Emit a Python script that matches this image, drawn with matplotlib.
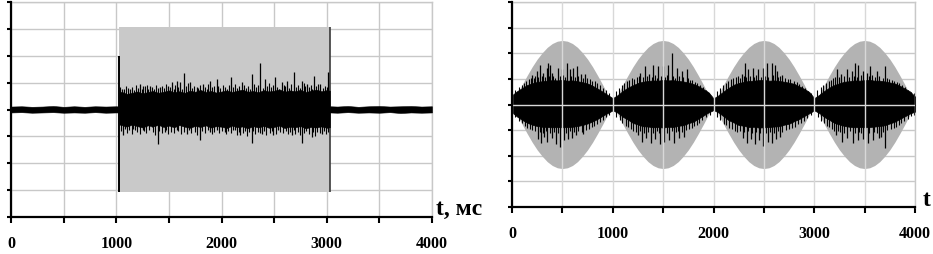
import numpy as np
import matplotlib
matplotlib.use("Agg")
from matplotlib import pyplot as plt

# ---- left panel: noise burst inside a rectangular window ----
win_start, win_end, win_half = 1030, 3030, 3.07
onset_spike = (-3.07, 2.0)

quiet1_t = [0, 100, 200, 300, 400, 500, 600, 700, 800, 900, 1000, 1030]
quiet1_hi = [0.11, 0.12, 0.10, 0.11, 0.13, 0.10, 0.12, 0.10, 0.12, 0.11, 0.12, 0.11]
quiet1_lo = [-0.11, -0.10, -0.12, -0.11, -0.10, -0.12, -0.11, -0.12, -0.10, -0.12, -0.11, -0.11]

active_t = [1030] + list(range(1050, 3001, 50)) + [3030]
active_hi = [0.62, 0.66, 0.58, 0.62, 0.67, 0.60, 0.65, 0.69, 0.62, 0.66, 0.71, 0.64, 0.68, 0.62, 0.70,
             0.66, 0.73, 0.65, 0.69, 0.63, 0.67, 0.71, 0.65, 0.70, 0.74, 0.66, 0.69, 0.64, 0.72, 0.67,
             0.70, 0.75, 0.66, 0.71, 0.68, 0.73, 0.65, 0.70, 0.74, 0.68, 0.72, 0.70]
active_lo = [-0.56, -0.58, -0.64, -0.56, -0.62, -0.67, -0.59, -0.63, -0.57, -0.65, -0.60, -0.66, -0.58,
             -0.64, -0.68, -0.61, -0.65, -0.59, -0.67, -0.62, -0.64, -0.69, -0.60, -0.66, -0.63, -0.70,
             -0.62, -0.67, -0.61, -0.68, -0.65, -0.60, -0.69, -0.64, -0.66, -0.62, -0.70, -0.65, -0.67,
             -0.63, -0.68, -0.66]

quiet2_t = [3030, 3100, 3200, 3300, 3400, 3500, 3600, 3700, 3800, 3900, 4000]
quiet2_hi = [0.12, 0.11, 0.13, 0.10, 0.12, 0.13, 0.11, 0.12, 0.13, 0.11, 0.12]
quiet2_lo = [-0.11, -0.12, -0.10, -0.12, -0.11, -0.12, -0.10, -0.13, -0.11, -0.12, -0.11]

# tall needles (time, value)
left_up_spikes = [(1051, 0.77), (1131, 0.77), (1226, 0.95), (1257, 0.89), (1321, 0.89), (1416, 0.83),
                  (1495, 0.89), (1527, 1.01), (1574, 1.07), (1606, 1.01), (1644, 1.37), (1701, 1.01),
                  (1764, 0.83), (1827, 0.95), (1891, 1.07), (1954, 1.14), (1970, 0.89), (2087, 1.20),
                  (2192, 1.01), (2287, 1.32), (2366, 1.73), (2413, 1.14), (2508, 1.20), (2572, 1.01),
                  (2619, 1.07), (2689, 1.38), (2762, 1.07), (2809, 0.95), (2879, 1.23), (2936, 0.95),
                  (3015, 1.38)]
left_dn_spikes = [(1067, -0.96), (1162, -0.72), (1257, -0.78), (1337, -0.66), (1394, -1.27),
                  (1463, -0.84), (1574, -0.78), (1669, -0.90), (1796, -1.15), (1891, -0.84),
                  (1954, -0.78), (2033, -0.84), (2128, -0.78), (2176, -0.96), (2287, -1.23),
                  (2382, -0.90), (2492, -0.96), (2540, -0.78), (2667, -0.96), (2768, -1.23),
                  (2857, -1.02), (2952, -0.90)]
# short needles that roughen the band edge
left_up_fine = [(1040, 0.82), (1075, 0.76), (1095, 0.88), (1110, 0.79), (1150, 0.85), (1170, 0.74),
                (1190, 0.91), (1210, 0.80), (1240, 0.77), (1275, 0.86), (1290, 0.93), (1305, 0.78),
                (1340, 0.84), (1360, 0.75), (1380, 0.90), (1400, 0.81), (1435, 0.87), (1450, 0.79),
                (1470, 0.95), (1510, 0.83), (1545, 0.76), (1560, 0.92), (1590, 0.85), (1620, 0.78),
                (1660, 0.88), (1680, 0.97), (1720, 0.80), (1740, 0.86), (1780, 0.79), (1800, 0.91),
                (1845, 0.84), (1860, 0.77), (1875, 0.95), (1910, 0.82), (1930, 0.88), (1990, 0.80),
                (2010, 0.93), (2030, 0.85), (2050, 0.78), (2070, 0.90), (2110, 0.83), (2130, 0.96),
                (2150, 0.79), (2170, 0.87), (2210, 0.92), (2230, 0.81), (2250, 0.89), (2270, 0.76),
                (2310, 0.94), (2330, 0.84), (2350, 0.90), (2390, 0.79), (2430, 0.86), (2450, 0.98),
                (2470, 0.82), (2490, 0.91), (2530, 0.85), (2550, 0.78), (2590, 0.93), (2600, 0.87),
                (2640, 0.80), (2660, 0.95), (2710, 0.84), (2730, 0.90), (2745, 0.79), (2780, 0.97),
                (2790, 0.86), (2830, 0.83), (2850, 0.92), (2860, 0.78), (2900, 0.89), (2920, 0.94),
                (2960, 0.81), (2980, 0.88), (3000, 0.85)]
left_dn_fine = [(1045, -0.80), (1085, -0.74), (1100, -0.86), (1125, -0.78), (1145, -0.90), (1180, -0.76),
                (1200, -0.84), (1230, -0.92), (1265, -0.79), (1285, -0.87), (1310, -0.75), (1350, -0.83),
                (1370, -0.95), (1410, -0.80), (1430, -0.88), (1475, -0.77), (1495, -0.91), (1520, -0.82),
                (1550, -0.86), (1590, -0.79), (1615, -0.93), (1640, -0.84), (1690, -0.78), (1710, -0.89),
                (1745, -0.82), (1770, -0.96), (1810, -0.80), (1840, -0.87), (1870, -0.77), (1905, -0.90),
                (1930, -0.83), (1975, -0.88), (2000, -0.79), (2045, -0.92), (2060, -0.81), (2090, -0.86),
                (2110, -0.78), (2145, -0.94), (2165, -0.83), (2200, -0.88), (2220, -0.80), (2245, -0.97),
                (2265, -0.85), (2300, -0.79), (2320, -0.91), (2345, -0.84), (2365, -0.89), (2405, -0.81),
                (2425, -0.95), (2460, -0.86), (2480, -0.79), (2515, -0.92), (2560, -0.84), (2580, -0.88),
                (2610, -0.80), (2630, -0.93), (2655, -0.85), (2685, -0.78), (2700, -0.90), (2725, -0.83),
                (2745, -0.96), (2785, -0.86), (2805, -0.80), (2830, -0.91), (2870, -0.84), (2890, -0.97),
                (2910, -0.82), (2935, -0.88), (2970, -0.79), (2990, -0.93), (3010, -0.85)]

# ---- right panel: noise modulated by a sine envelope ----
env_t = list(range(0, 4001, 50))
env_v = [0.00, 0.39, 0.77, 1.13, 1.47, 1.77, 2.02, 2.23, 2.38, 2.47, 2.50, 2.47, 2.38, 2.23, 2.02, 1.77,
         1.47, 1.13, 0.77, 0.39, 0.00, 0.39, 0.77, 1.13, 1.47, 1.77, 2.02, 2.23, 2.38, 2.47, 2.50, 2.47,
         2.38, 2.23, 2.02, 1.77, 1.47, 1.13, 0.77, 0.39, 0.00, 0.39, 0.77, 1.13, 1.47, 1.77, 2.02, 2.23,
         2.38, 2.47, 2.50, 2.47, 2.38, 2.23, 2.02, 1.77, 1.47, 1.13, 0.77, 0.39, 0.00, 0.39, 0.77, 1.13,
         1.47, 1.77, 2.02, 2.23, 2.38, 2.47, 2.50, 2.47, 2.38, 2.23, 2.02, 1.77, 1.47, 1.13, 0.77, 0.39,
         0.00]
band_hi = [0.36, 0.52, 0.64, 0.76, 0.83, 0.88, 0.91, 0.93, 0.95, 0.94, 0.96, 0.93, 0.94, 0.91, 0.87, 0.82,
           0.73, 0.62, 0.50, 0.37, 0.25, 0.37, 0.53, 0.66, 0.75, 0.84, 0.89, 0.92, 0.94, 0.93, 0.96, 0.94,
           0.95, 0.92, 0.90, 0.86, 0.80, 0.72, 0.60, 0.48, 0.24, 0.36, 0.51, 0.65, 0.77, 0.84, 0.88, 0.92,
           0.93, 0.95, 0.96, 0.93, 0.94, 0.92, 0.89, 0.85, 0.81, 0.71, 0.61, 0.49, 0.25, 0.38, 0.53, 0.66,
           0.76, 0.83, 0.89, 0.91, 0.94, 0.93, 0.95, 0.96, 0.93, 0.93, 0.90, 0.86, 0.82, 0.73, 0.62, 0.51,
           0.31]
band_lo = [-0.31, -0.47, -0.60, -0.71, -0.79, -0.84, -0.87, -0.88, -0.89, -0.88, -0.89, -0.88, -0.87,
           -0.84, -0.80, -0.74, -0.66, -0.56, -0.44, -0.33, -0.23, -0.32, -0.48, -0.59, -0.72, -0.78,
           -0.85, -0.86, -0.89, -0.88, -0.90, -0.87, -0.88, -0.83, -0.81, -0.73, -0.67, -0.55, -0.43,
           -0.31, -0.22, -0.31, -0.46, -0.61, -0.70, -0.80, -0.83, -0.88, -0.87, -0.90, -0.89, -0.88,
           -0.86, -0.85, -0.79, -0.75, -0.65, -0.57, -0.45, -0.34, -0.23, -0.33, -0.49, -0.60, -0.72,
           -0.78, -0.84, -0.87, -0.89, -0.88, -0.89, -0.88, -0.86, -0.84, -0.81, -0.74, -0.67, -0.56,
           -0.46, -0.35, -0.28]

right_up_spikes = [(200, 1.15), (245, 1.30), (278, 1.56), (311, 1.24), (344, 1.43), (361, 1.63), (377, 1.56),
                   (394, 1.24), (460, 1.43), (493, 1.37), (543, 1.63), (576, 1.37), (609, 1.43), (642, 1.50),
                   (680, 1.20), (720, 1.18),
                   (1271, 1.24), (1320, 1.50), (1360, 1.20), (1403, 1.56), (1452, 1.50), (1502, 1.50),
                   (1551, 1.56), (1585, 2.00), (1635, 1.43), (1684, 1.30), (1734, 1.37),
                   (2280, 1.20), (2313, 1.63), (2346, 1.37), (2395, 1.43), (2445, 1.37), (2495, 1.43),
                   (2528, 1.63), (2578, 1.63), (2611, 1.56), (2627, 1.30), (2680, 1.15),
                   (3223, 1.37), (3270, 1.20), (3322, 1.37), (3372, 1.30), (3405, 1.63), (3438, 1.56),
                   (3480, 1.30), (3521, 1.24), (3554, 1.50), (3620, 1.30), (3702, 1.50)]
right_dn_spikes = [(260, -1.35), (290, -1.50), (320, -1.25), (350, -1.45), (400, -1.30), (440, -1.55),
                   (480, -1.66), (520, -1.40), (560, -1.35), (600, -1.30), (640, -1.20), (700, -1.15),
                   (1250, -1.20), (1290, -1.45), (1330, -1.30), (1380, -1.50), (1420, -1.35), (1470, -1.55),
                   (1510, -1.45), (1560, -1.40), (1610, -1.50), (1660, -1.30), (1710, -1.25),
                   (2290, -1.30), (2330, -1.50), (2370, -1.35), (2410, -1.55), (2450, -1.40), (2490, -1.60),
                   (2540, -1.45), (2580, -1.50), (2620, -1.35), (2660, -1.25),
                   (3220, -1.20), (3280, -1.45), (3330, -1.30), (3380, -1.50), (3430, -1.40), (3480, -1.35),
                   (3530, -1.50), (3580, -1.40), (3640, -1.30), (3660, -1.25), (3702, -1.68)]
right_up_fine = [(30, 0.55), (70, 0.70), (95, 0.78), (120, 0.85), (140, 0.92), (165, 0.98), (185, 1.02),
                 (215, 1.05), (230, 1.10), (260, 1.08), (295, 1.12), (325, 1.06), (370, 1.10), (410, 1.13),
                 (430, 1.05), (475, 1.10), (510, 1.15), (530, 1.08), (590, 1.12), (625, 1.06), (660, 1.10),
                 (700, 1.04), (740, 1.02), (770, 0.98), (790, 0.93), (820, 0.90), (845, 0.82), (870, 0.75),
                 (900, 0.66), (930, 0.55), (965, 0.45),
                 (1030, 0.52), (1065, 0.66), (1090, 0.76), (1115, 0.84), (1145, 0.90), (1160, 0.97),
                 (1190, 1.03), (1210, 1.00), (1240, 1.08), (1265, 1.10), (1300, 1.06), (1335, 1.12),
                 (1385, 1.08), (1420, 1.14), (1440, 1.05), (1480, 1.12), (1520, 1.08), (1540, 1.15),
                 (1600, 1.10), (1620, 1.05), (1655, 1.12), (1700, 1.06), (1745, 1.03), (1765, 0.97),
                 (1790, 0.94), (1815, 0.88), (1840, 0.84), (1865, 0.76), (1895, 0.68), (1925, 0.58),
                 (1960, 0.45),
                 (2030, 0.53), (2060, 0.64), (2095, 0.78), (2120, 0.84), (2140, 0.91), (2170, 0.98),
                 (2190, 1.02), (2220, 1.06), (2245, 1.10), (2265, 1.05), (2300, 1.12), (2320, 1.08),
                 (2365, 1.12), (2405, 1.06), (2425, 1.14), (2470, 1.08), (2515, 1.12), (2545, 1.06),
                 (2595, 1.15), (2640, 1.08), (2665, 1.12), (2705, 1.05), (2735, 1.00), (2760, 0.98),
                 (2795, 0.92), (2825, 0.88), (2850, 0.80), (2875, 0.74), (2905, 0.64), (2935, 0.54),
                 (2965, 0.44),
                 (3030, 0.56), (3065, 0.68), (3090, 0.77), (3115, 0.85), (3145, 0.92), (3165, 0.97),
                 (3190, 1.02), (3210, 1.06), (3245, 1.09), (3265, 1.04), (3300, 1.12), (3345, 1.08),
                 (3390, 1.12), (3420, 1.06), (3460, 1.14), (3500, 1.08), (3540, 1.10), (3575, 1.15),
                 (3600, 1.06), (3640, 1.10), (3680, 1.05), (3720, 1.02), (3745, 1.00), (3770, 0.96),
                 (3795, 0.93), (3820, 0.88), (3845, 0.82), (3870, 0.76), (3900, 0.68), (3930, 0.58),
                 (3965, 0.50), (3990, 0.44)]
right_dn_fine = [(30, -0.48), (70, -0.63), (100, -0.72), (125, -0.82), (150, -0.90), (175, -0.97),
                 (200, -1.00), (230, -1.05), (275, -1.08), (305, -1.12), (335, -1.04), (375, -1.10),
                 (420, -1.06), (455, -1.12), (500, -1.05), (540, -1.10), (580, -1.04), (620, -1.08),
                 (660, -1.02), (690, -1.06), (730, -0.98), (760, -0.95), (790, -0.88), (815, -0.85),
                 (840, -0.78), (870, -0.70), (900, -0.60), (935, -0.50), (965, -0.40),
                 (1035, -0.50), (1070, -0.62), (1095, -0.74), (1130, -0.83), (1150, -0.88), (1180, -0.96),
                 (1205, -1.02), (1235, -1.06), (1270, -1.04), (1310, -1.10), (1345, -1.06), (1395, -1.12),
                 (1435, -1.05), (1460, -1.10), (1495, -1.06), (1535, -1.12), (1585, -1.05), (1625, -1.09),
                 (1645, -1.02), (1685, -1.07), (1725, -1.00), (1755, -0.96), (1785, -0.90), (1810, -0.84),
                 (1835, -0.80), (1860, -0.72), (1890, -0.62), (1930, -0.50), (1965, -0.40),
                 (2030, -0.47), (2065, -0.60), (2100, -0.75), (2120, -0.80), (2155, -0.90), (2180, -0.95),
                 (2210, -1.02), (2235, -1.06), (2260, -1.03), (2300, -1.09), (2340, -1.05), (2380, -1.12),
                 (2425, -1.06), (2465, -1.10), (2505, -1.04), (2525, -1.12), (2565, -1.06), (2605, -1.10),
                 (2645, -1.04), (2680, -1.08), (2720, -1.00), (2750, -0.97), (2780, -0.90), (2810, -0.86),
                 (2840, -0.78), (2865, -0.72), (2895, -0.63), (2930, -0.52), (2965, -0.41),
                 (3035, -0.50), (3070, -0.64), (3100, -0.73), (3125, -0.84), (3150, -0.89), (3175, -0.95),
                 (3200, -1.02), (3240, -1.05), (3260, -1.08), (3300, -1.10), (3350, -1.05), (3400, -1.12),
                 (3445, -1.06), (3465, -1.10), (3505, -1.05), (3545, -1.12), (3595, -1.06), (3620, -1.10),
                 (3665, -1.03), (3685, -1.07), (3725, -1.00), (3760, -0.96), (3790, -0.90), (3815, -0.86),
                 (3840, -0.80), (3865, -0.73), (3895, -0.64), (3930, -0.55), (3965, -0.46), (3990, -0.40)]

x_ticks = list(range(0, 4001, 500))
x_labels = ['0', '', '1000', '', '2000', '', '3000', '', '4000']
y_ticks = [-4, -3, -2, -1, 0, 1, 2, 3, 4]
axis_label = 't, мс'
axis_label_cut = 't'

W, H = 933, 254
GRID = '#c8c8c8'
TICK_FONT = dict(family='Liberation Serif', weight='bold', size=11.5)


def style_axes(ax, grid_on_top):
    ax.set_xlim(0, 4000)
    ax.set_ylim(-4, 4)
    ax.set_xticks(x_ticks)
    ax.set_xticklabels(x_labels, fontdict=TICK_FONT)
    ax.set_yticks(y_ticks)
    ax.set_yticklabels([])
    ax.tick_params(axis='x', direction='out', length=4, width=1.5, pad=9.5)
    ax.tick_params(axis='y', direction='out', length=3, width=1.5)
    for s in ('left', 'bottom'):
        ax.spines[s].set_linewidth(1.6)
        ax.spines[s].set_color('black')
        ax.spines[s].set_zorder(6)
    for s in ('top', 'right'):
        ax.spines[s].set_linewidth(1.0)
        ax.spines[s].set_color(GRID)
    # horizontal grid always under the data
    for y in y_ticks:
        ax.axhline(y, color=GRID, lw=1.0, zorder=0.5)
    z = 5 if grid_on_top else 0.5
    vcol = '#d8d8d8' if grid_on_top else GRID
    for x in x_ticks:
        ax.axvline(x, color=vcol, lw=1.0, zorder=z)
    if grid_on_top:
        ax.axhline(0, color=vcol, lw=1.0, zorder=z)


def needles(ax, pairs, lw):
    t, v = zip(*pairs)
    ax.vlines(t, 0, v, color='black', lw=lw, zorder=3)


fig = plt.figure(figsize=(W / 100, H / 100), dpi=100)

# left panel
ax1 = fig.add_axes([11 / W, 1 - 217 / H, 421 / W, 215 / H])
ax1.axvspan(win_start, win_end, ymin=(4 - win_half) / 8, ymax=(4 + win_half) / 8,
            color='#c9c9c9', lw=0, zorder=1)
ax1.vlines(win_end, -win_half, win_half, color='#3a3a3a', lw=1.2, zorder=2)
lt = np.concatenate([quiet1_t, active_t, quiet2_t])
lhi = np.concatenate([quiet1_hi, active_hi, quiet2_hi])
llo = np.concatenate([quiet1_lo, active_lo, quiet2_lo])
ax1.fill_between(lt, llo, lhi, color='black', lw=0.4, zorder=3)
needles(ax1, left_up_fine, 0.8)
needles(ax1, left_dn_fine, 0.8)
needles(ax1, left_up_spikes, 0.9)
needles(ax1, left_dn_spikes, 0.9)
ax1.vlines(win_start, onset_spike[0], onset_spike[1], color='black', lw=1.4, zorder=3)
style_axes(ax1, grid_on_top=False)

# right panel
ax2 = fig.add_axes([512 / W, 1 - 207 / H, 403 / W, 205 / H])
env = np.array(env_v)
ax2.fill_between(env_t, -env, env, color='#b3b3b3', lw=0, zorder=1)
ax2.fill_between(env_t, band_lo, band_hi, color='black', lw=0.5, zorder=3)
needles(ax2, right_up_fine, 0.8)
needles(ax2, right_dn_fine, 0.8)
needles(ax2, right_up_spikes, 0.9)
needles(ax2, right_dn_spikes, 0.9)
style_axes(ax2, grid_on_top=True)

label_font = dict(family='Liberation Serif', weight='bold', size=17)
fig.text(436 / W, 1 - 215 / H, axis_label, ha='left', va='baseline', **label_font)
fig.text(923 / W, 1 - 206 / H, axis_label_cut, ha='left', va='baseline', **label_font)

fig.savefig('out.png', dpi=100)
